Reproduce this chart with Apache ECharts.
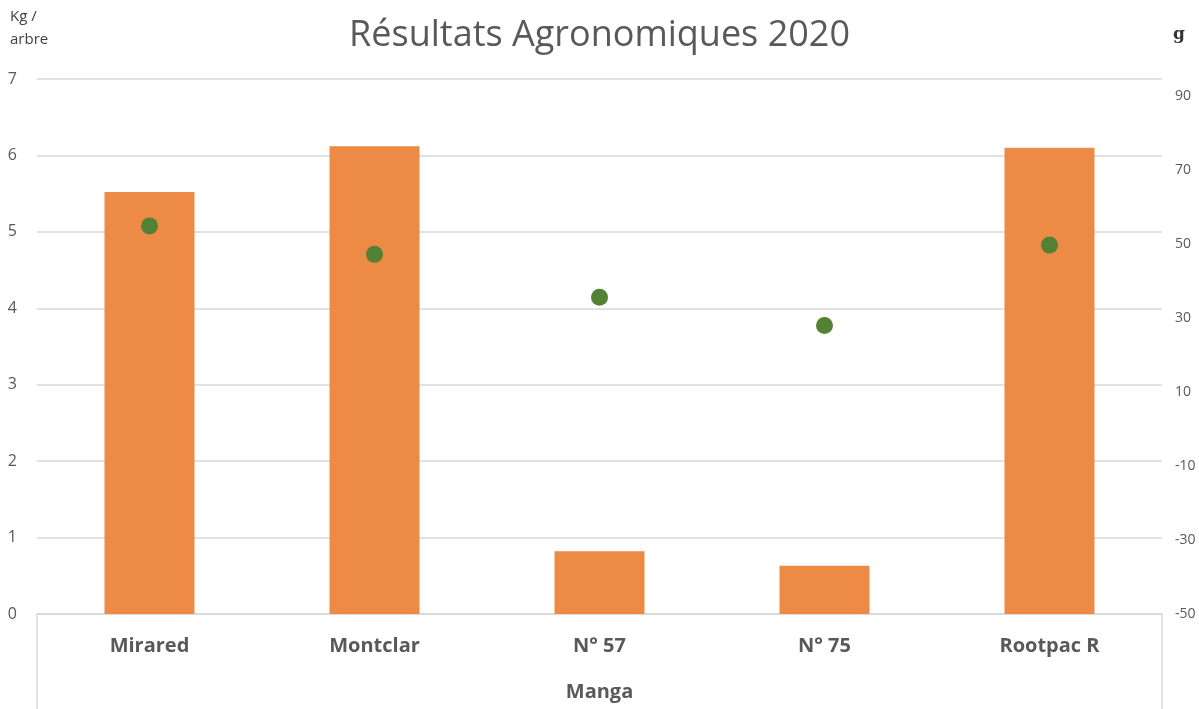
<!DOCTYPE html>
<html>
<head>
<meta charset="utf-8">
<script src="https://cdn.jsdelivr.net/npm/echarts@6/dist/echarts.min.js"></script>
<style>
  html, body { margin: 0; padding: 0; background: #fff; }
  #chart { width: 1199px; height: 709px; }
</style>
</head>
<body>
<div id="chart"></div>
<script>
// categories (porte-greffes) and their group label
var categories = ['Mirared', 'Montclar', 'N° 57', 'N° 75', 'Rootpac R'];
var groupLabel = ['Manga'];
// rendement en Kg / arbre (barres, axe gauche)
var rendement = [5.52, 6.12, 0.82, 0.63, 6.10];
// poids moyen du fruit en g (points, axe droit)
var poids = [54.9, 47.2, 35.6, 28.0, 49.7];

var grey = '#595959';
var lineGrey = '#d9d9d9';
var font = '"Open Sans", "Noto Sans", sans-serif';

var chart = echarts.init(document.getElementById('chart'));
chart.setOption({
  animation: false,
  backgroundColor: '#fff',
  textStyle: { fontFamily: font },
  title: {
    text: 'Résultats Agronomiques 2020',
    left: 'center',
    top: 13,
    textStyle: { fontSize: 36, fontWeight: 'normal', color: grey, fontFamily: font }
  },
  grid: { left: 37, right: 37, top: 79, bottom: 95 },
  xAxis: [{
    type: 'category',
    data: categories,
    axisLine: { onZero: false, lineStyle: { color: lineGrey, width: 1.5 } },
    axisTick: { show: false },
    axisLabel: { color: grey, fontSize: 20, fontWeight: 'bold', margin: 22, fontFamily: font }
  }, {
    type: 'category',
    data: groupLabel,
    position: 'bottom',
    boundaryGap: true,
    axisLine: { show: false, onZero: false },
    axisTick: { show: true, length: 95, lineStyle: { color: lineGrey, width: 1.5 } },
    axisLabel: { color: grey, fontSize: 20, fontWeight: 'bold', margin: 68, fontFamily: font }
  }],
  yAxis: [{
    type: 'value',
    min: 0,
    max: 7,
    interval: 1,
    name: 'Kg /\narbre',
    nameLocation: 'end',
    nameGap: 28,
    nameTextStyle: { color: '#404040', fontSize: 15, align: 'left', padding: [0, 0, 0, -27], lineHeight: 23 },
    axisLine: { show: false },
    axisTick: { show: false },
    axisLabel: { color: grey, fontSize: 16, margin: 20 },
    splitLine: { lineStyle: { color: lineGrey, width: 1.5 } }
  }, {
    type: 'value',
    min: -50,
    max: 94.6,
    interval: 10,
    position: 'right',
    name: 'g',
    nameLocation: 'end',
    nameGap: 36,
    nameTextStyle: { color: '#333', fontSize: 17, fontWeight: 'bold', fontFamily: 'DejaVu Serif, serif', padding: [0, 0, 0, 34] },
    axisLine: { show: false },
    axisTick: { show: false },
    splitLine: { show: false },
    axisLabel: {
      color: grey,
      fontSize: 14,
      margin: 13,
      showMaxLabel: false,
      formatter: function (v) {
        return ((v + 50) % 20 === 0 && v <= 90) ? String(v) : '';
      }
    }
  }],
  series: [{
    name: 'Kg / arbre',
    type: 'bar',
    xAxisIndex: 0,
    yAxisIndex: 0,
    barWidth: '40%',
    itemStyle: { color: '#ED8A45' },
    data: rendement
  }, {
    name: 'g',
    type: 'scatter',
    xAxisIndex: 0,
    yAxisIndex: 1,
    symbolSize: 17,
    itemStyle: { color: '#538234', opacity: 1 },
    data: poids
  }]
});
</script>
</body>
</html>
